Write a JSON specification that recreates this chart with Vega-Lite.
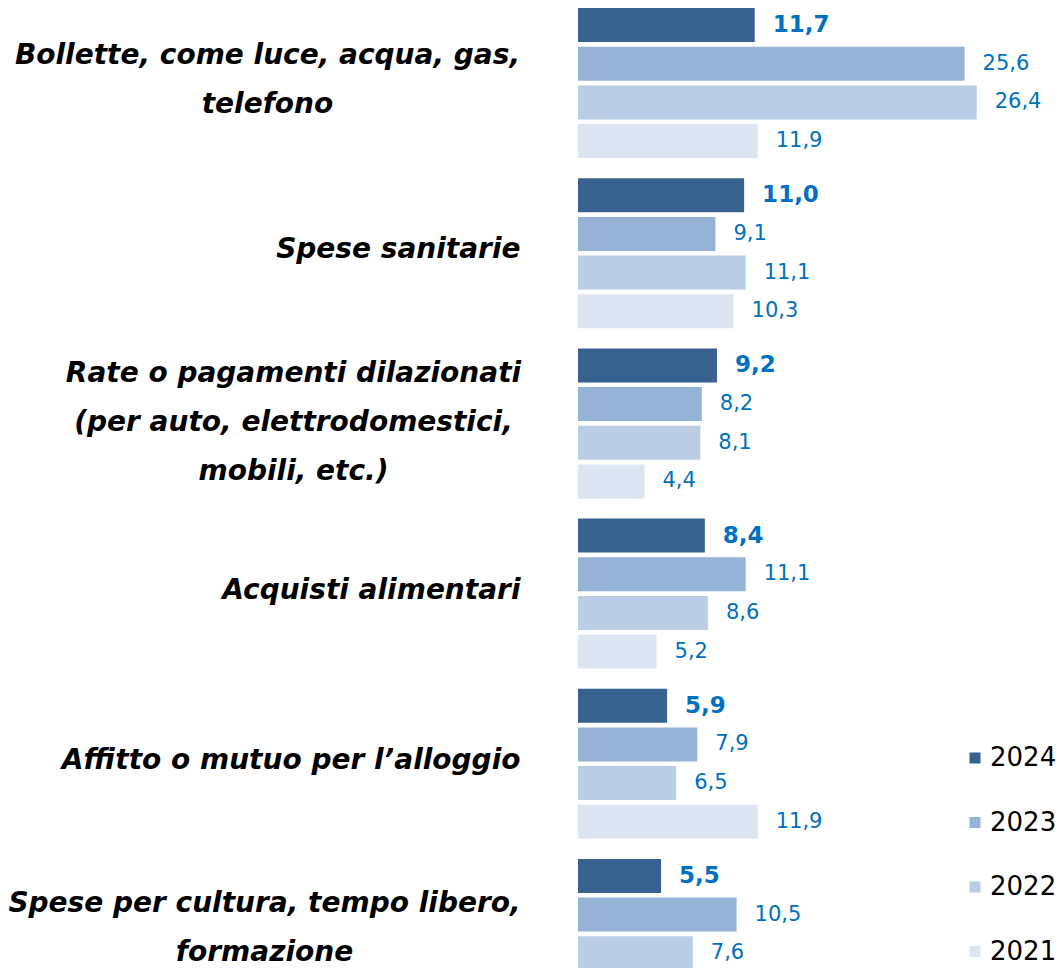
{
  "$schema": "https://vega.github.io/schema/vega-lite/v6.json",
  "autosize": {"type": "none"},
  "padding": {"left": 578, "top": 0, "right": 0, "bottom": 0},
  "width": 481,
  "height": 1021,
  "background": "white",
  "config": {
    "view": {"stroke": null},
    "locale": {"number": {"decimal": ",", "thousands": ".", "grouping": [3], "currency": ["", " €"]}}
  },
  "data": {
    "values": [
      {"categoria": "Bollette, come luce, acqua, gas, telefono", "anno": "2024", "valore": 11.7},
      {"categoria": "Bollette, come luce, acqua, gas, telefono", "anno": "2023", "valore": 25.6},
      {"categoria": "Bollette, come luce, acqua, gas, telefono", "anno": "2022", "valore": 26.4},
      {"categoria": "Bollette, come luce, acqua, gas, telefono", "anno": "2021", "valore": 11.9},
      {"categoria": "Spese sanitarie", "anno": "2024", "valore": 11.0},
      {"categoria": "Spese sanitarie", "anno": "2023", "valore": 9.1},
      {"categoria": "Spese sanitarie", "anno": "2022", "valore": 11.1},
      {"categoria": "Spese sanitarie", "anno": "2021", "valore": 10.3},
      {"categoria": "Rate o pagamenti dilazionati (per auto, elettrodomestici, mobili, etc.)", "anno": "2024", "valore": 9.2},
      {"categoria": "Rate o pagamenti dilazionati (per auto, elettrodomestici, mobili, etc.)", "anno": "2023", "valore": 8.2},
      {"categoria": "Rate o pagamenti dilazionati (per auto, elettrodomestici, mobili, etc.)", "anno": "2022", "valore": 8.1},
      {"categoria": "Rate o pagamenti dilazionati (per auto, elettrodomestici, mobili, etc.)", "anno": "2021", "valore": 4.4},
      {"categoria": "Acquisti alimentari", "anno": "2024", "valore": 8.4},
      {"categoria": "Acquisti alimentari", "anno": "2023", "valore": 11.1},
      {"categoria": "Acquisti alimentari", "anno": "2022", "valore": 8.6},
      {"categoria": "Acquisti alimentari", "anno": "2021", "valore": 5.2},
      {"categoria": "Affitto o mutuo per l’alloggio", "anno": "2024", "valore": 5.9},
      {"categoria": "Affitto o mutuo per l’alloggio", "anno": "2023", "valore": 7.9},
      {"categoria": "Affitto o mutuo per l’alloggio", "anno": "2022", "valore": 6.5},
      {"categoria": "Affitto o mutuo per l’alloggio", "anno": "2021", "valore": 11.9},
      {"categoria": "Spese per cultura, tempo libero, formazione", "anno": "2024", "valore": 5.5},
      {"categoria": "Spese per cultura, tempo libero, formazione", "anno": "2023", "valore": 10.5},
      {"categoria": "Spese per cultura, tempo libero, formazione", "anno": "2022", "valore": 7.6},
      {"categoria": "Spese per cultura, tempo libero, formazione", "anno": "2021", "valore": 6.0}
    ]
  },
  "encoding": {
    "y": {
      "field": "categoria",
      "type": "nominal",
      "sort": null,
      "scale": {"paddingInner": 0, "paddingOuter": 0},
      "axis": {
        "title": null,
        "domain": false,
        "ticks": false,
        "labelFont": "DejaVu Sans",
        "labelFontSize": 28,
        "labelFontWeight": "bold",
        "labelFontStyle": "italic",
        "labelColor": "#000000",
        "labelLimit": 700,
        "labelLineHeight": 49,
        "labelAlign": {
          "condition": {"test": "indexof(datum.value, 'Bollette') == 0 || indexof(datum.value, 'Rate') == 0 || indexof(datum.value, 'Spese per') == 0", "value": "center"},
          "value": "right"
        },
        "labelPadding": {
          "condition": [
            {"test": "indexof(datum.value, 'Bollette') == 0", "value": 311},
            {"test": "indexof(datum.value, 'Rate') == 0", "value": 285},
            {"test": "indexof(datum.value, 'Spese per') == 0", "value": 314}
          ],
          "value": 58
        },
        "labelOffset": {
          "condition": [
            {"test": "indexof(datum.value, 'Bollette') == 0", "value": -29},
            {"test": "indexof(datum.value, 'Rate') == 0", "value": -51},
            {"test": "indexof(datum.value, 'Spese per') == 0", "value": -32}
          ],
          "value": -5
        },
        "labelExpr": "datum.value == 'Bollette, come luce, acqua, gas, telefono' ? ['Bollette, come luce, acqua, gas,', 'telefono'] : datum.value == 'Rate o pagamenti dilazionati (per auto, elettrodomestici, mobili, etc.)' ? ['Rate o pagamenti dilazionati', '(per auto, elettrodomestici,', 'mobili, etc.)'] : datum.value == 'Spese per cultura, tempo libero, formazione' ? ['Spese per cultura, tempo libero,', 'formazione'] : datum.value"
      }
    },
    "yOffset": {
      "field": "anno",
      "type": "nominal",
      "sort": ["2024", "2023", "2022", "2021"],
      "scale": {"paddingInner": 0.121, "paddingOuter": 0.26, "align": 0.4}
    },
    "x": {
      "field": "valore",
      "type": "quantitative",
      "scale": {"domain": [0, 31.85], "nice": false},
      "axis": null
    }
  },
  "layer": [
    {
      "mark": {"type": "bar"},
      "encoding": {
        "color": {
          "field": "anno",
          "type": "nominal",
          "scale": {"domain": ["2024", "2023", "2022", "2021"], "range": ["#37618F", "#95B3D7", "#B9CDE5", "#DCE6F2"]},
          "legend": {
            "title": null,
            "orient": "none",
            "legendX": 384,
            "legendY": 745,
            "symbolType": "square",
            "symbolSize": 121,
            "symbolStrokeWidth": 0,
            "labelFont": "DejaVu Sans",
            "labelFontSize": 26,
            "labelColor": "#000000",
            "labelOffset": 2,
            "rowPadding": 38.5
          }
        }
      }
    },
    {
      "transform": [{"filter": "datum.anno == '2024'"}],
      "mark": {"type": "text", "align": "left", "baseline": "middle", "dx": 18, "font": "DejaVu Sans", "fontSize": 23, "fontWeight": "bold", "color": "#0070C0"},
      "encoding": {"text": {"field": "valore", "type": "quantitative", "format": ".1f"}}
    },
    {
      "transform": [{"filter": "datum.anno != '2024'"}],
      "mark": {"type": "text", "align": "left", "baseline": "middle", "dx": 18, "font": "DejaVu Sans", "fontSize": 21, "color": "#0070C0"},
      "encoding": {"text": {"field": "valore", "type": "quantitative", "format": ".1f"}}
    }
  ]
}
